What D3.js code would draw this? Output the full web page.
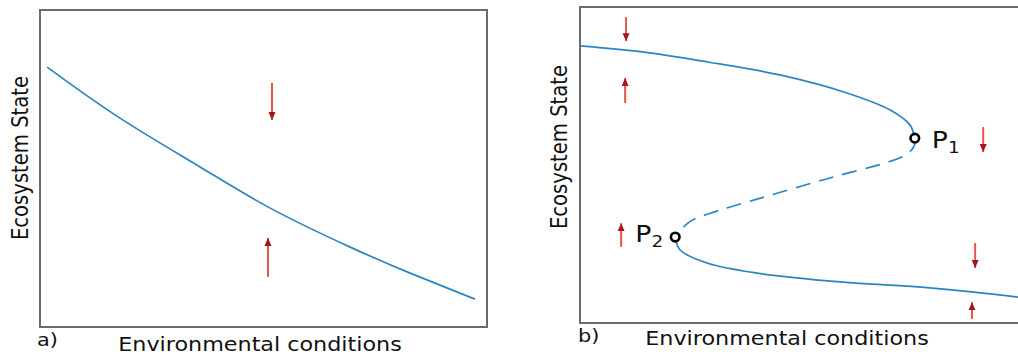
<!DOCTYPE html>
<html>
<head>
<meta charset="utf-8">
<script src="https://cdn.jsdelivr.net/npm/d3@7"></script>
<style>
  body { margin: 0; background: #fff; }
  text { font-family: "DejaVu Sans", sans-serif; fill: #111; }
</style>
</head>
<body>
<svg id="chart"></svg>
<script>
// data, in percent of each panel's box (x: left->right, y: bottom->top)
const xLabel = 'Environmental conditions';
const yLabel = 'Ecosystem State';
const panelTags = ['a)', 'b)'];

// a) a single, smooth equilibrium curve
const curveA = [[1.6, 82.0], [17.9, 65.9], [35.8, 50.5], [51.5, 37.5], [69.4, 25.2], [82.8, 17.0], [97.3, 8.8]];
const arrowsA = [
  { x: 51.9, from: 77.0, to: 65.3 },
  { x: 51.0, from: 15.8, to: 28.1 },
];

// b) folded curve with two tipping points
const upperB = [[0, 87.7], [13.9, 85.8], [28.6, 82.6], [44.7, 78.5], [59.7, 72.8], [69.4, 67.4], [73.8, 62.7], [74.9, 58.5]];
const unstableB = [[74.9, 58.5], [74.7, 55.8], [72.8, 53.2], [69.5, 51.2], [55.9, 45.9], [39.6, 39.2], [30.6, 35.4], [24.5, 32.0], [21.3, 27.2]];
const lowerB = [[21.3, 27.2], [22.4, 23.1], [28.4, 19.0], [39.6, 15.8], [58.2, 13.0], [78.3, 11.1], [98.0, 8.2]];
const arrowsB = [
  { x: 10.3, from: 96.8, to: 89.2 },
  { x: 10.1, from: 69.6, to: 77.5 },
  { x: 9.2, from: 24.1, to: 31.6 },
  { x: 90.2, from: 62.0, to: 54.1 },
  { x: 88.4, from: 25.3, to: 17.4 },
  { x: 87.7, from: 1.3, to: 6.6 },
];
const tippingPoints = [
  { sub: '1', x: 74.9, y: 58.5, side: 'right' },
  { sub: '2', x: 21.3, y: 27.2, side: 'left' },
];

const width = 1018;
const height = 355;
const stretch = 1.16; // the source picture is wider than tall
const blue = '#2a86c2';

const svg = d3.select('#chart').attr('width', width).attr('height', height);

svg.append('defs').append('marker')
  .attr('id', 'head')
  .attr('markerUnits', 'userSpaceOnUse')
  .attr('markerWidth', 8)
  .attr('markerHeight', 8)
  .attr('refX', 8)
  .attr('refY', 4)
  .attr('orient', 'auto')
  .append('path')
  .attr('d', 'M0,0.5 L8,4 L0,7.5 Z')
  .attr('fill', '#a3161b');

function makePanel(box, curve) {
  const x = d3.scaleLinear().domain([0, 100]).range([box.left, box.right]);
  const y = d3.scaleLinear().domain([0, 100]).range([box.bottom, box.top]);
  const g = svg.append('g');

  g.append('rect')
    .attr('x', x(0))
    .attr('y', y(100))
    .attr('width', x(100) - x(0))
    .attr('height', y(0) - y(100))
    .attr('fill', 'none')
    .attr('stroke', '#6b6b6b')
    .attr('stroke-width', 2);

  const line = d3.line()
    .x((d) => x(d[0]))
    .y((d) => y(d[1]))
    .curve(curve);

  return { x, y, g, line };
}

function drawArrows(p, arrows) {
  p.g.selectAll('line.arrow')
    .data(arrows)
    .enter()
    .append('line')
    .attr('class', 'arrow')
    .attr('x1', (d) => p.x(d.x))
    .attr('x2', (d) => p.x(d.x))
    .attr('y1', (d) => p.y(d.from))
    .attr('y2', (d) => p.y(d.to))
    .attr('stroke', '#e5564a')
    .attr('stroke-width', 2)
    .attr('marker-end', 'url(#head)');
}

function drawLabels(p, tag, xl, yl) {
  p.g.append('g')
    .attr('transform', `translate(${xl.x},${xl.y}) scale(${stretch},1)`)
    .append('text')
    .attr('text-anchor', 'middle')
    .attr('font-size', 19.2)
    .text(xLabel);

  p.g.append('g')
    .attr('transform', `translate(${yl.x},${yl.y}) scale(${stretch},1) rotate(-90)`)
    .append('text')
    .attr('text-anchor', 'middle')
    .attr('font-size', 19.6)
    .text(yLabel);

  p.g.append('g')
    .attr('transform', `translate(${tag.x},${tag.y}) scale(${stretch},1)`)
    .append('text')
    .attr('font-size', 18)
    .text(tag.text);
}

// panel a
const pa = makePanel({ left: 40, right: 487, top: 10, bottom: 327 }, d3.curveNatural);
pa.g.append('path')
  .attr('d', pa.line(curveA))
  .attr('fill', 'none')
  .attr('stroke', blue)
  .attr('stroke-width', 1.7);
drawArrows(pa, arrowsA);
drawLabels(pa, { x: 37, y: 346, text: panelTags[0] }, { x: 260, y: 351 }, { x: 28, y: 158 });

// panel b (its right edge runs past the picture)
const pb = makePanel({ left: 580, right: 1027, top: 7, bottom: 323 }, d3.curveCatmullRom.alpha(0.5));
[upperB, lowerB].forEach((branch) => {
  pb.g.append('path')
    .attr('d', pb.line(branch))
    .attr('fill', 'none')
    .attr('stroke', blue)
    .attr('stroke-width', 1.7);
});
pb.g.append('path')
  .attr('d', pb.line(unstableB))
  .attr('fill', 'none')
  .attr('stroke', blue)
  .attr('stroke-width', 1.7)
  .attr('stroke-dasharray', '15,9');
drawArrows(pb, arrowsB);

pb.g.selectAll('circle.tip')
  .data(tippingPoints)
  .enter()
  .append('circle')
  .attr('class', 'tip')
  .attr('cx', (d) => pb.x(d.x))
  .attr('cy', (d) => pb.y(d.y))
  .attr('r', 4.3)
  .attr('fill', '#fff')
  .attr('stroke', '#000')
  .attr('stroke-width', 2.6);

pb.g.selectAll('g.tip-label')
  .data(tippingPoints)
  .enter()
  .append('g')
  .attr('class', 'tip-label')
  .attr('transform', (d) => {
    const dx = d.side === 'right' ? 17 : -12;
    const dy = d.side === 'right' ? 10 : 5;
    return `translate(${pb.x(d.x) + dx},${pb.y(d.y) + dy}) scale(${stretch},1)`;
  })
  .append('text')
  .attr('text-anchor', (d) => (d.side === 'right' ? 'start' : 'end'))
  .attr('font-size', 23)
  .each(function (d) {
    const t = d3.select(this);
    t.append('tspan').text('P');
    t.append('tspan').attr('font-size', 16).attr('dy', 5).text(d.sub);
  });

drawLabels(pb, { x: 578, y: 342, text: panelTags[1] }, { x: 787, y: 345 }, { x: 567, y: 147 });
</script>
</body>
</html>
